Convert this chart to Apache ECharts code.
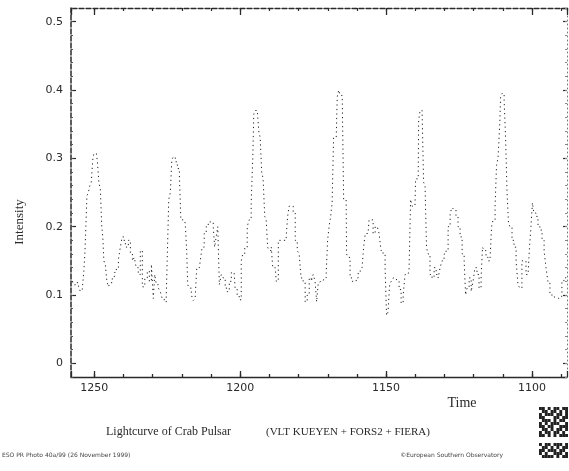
<!DOCTYPE html>
<html><head><meta charset="utf-8">
<script src="https://cdn.jsdelivr.net/npm/echarts@6/dist/echarts.min.js"></script>
<style>html,body{margin:0;padding:0;background:#fff}#c{width:569px;height:471px}</style>
</head><body><div id="c"></div>
<script>
// Time (x) and Intensity (y)
const time = [1257.5,1256.8,1255.8,1255.1,1254.5,1253.8,1253.4,1253.1,1252.7,1252.4,1251.7,1251.4,1250.7,1250.3,1250.0,1249.3,1248.6,1248.3,
1247.6,1247.3,1246.9,1246.6,1245.9,1245.5,1244.9,1244.2,1243.5,1242.8,1242.1,1241.4,1240.8,1240.1,1239.4,1238.7,1238.0,1237.3,1236.6,1236.0,1235.3,1234.6,1233.9,1233.2,
1232.2,1231.5,1230.8,1230.1,1229.5,1229.1,1228.4,1227.7,1227.1,1226.4,1225.7,1225.0,1224.7,1224.3,1223.6,1223.3,1222.6,1221.9,1221.2,1220.5,1220.2,1219.2,1218.5,1218.2,
1217.8,1217.1,1216.4,1215.8,1215.1,1214.7,1214.0,1213.4,1212.7,1212.0,1211.3,1210.6,1209.6,1208.9,1208.6,1207.9,1207.5,1206.8,1206.2,1205.5,1204.8,1204.1,1203.4,1202.7,1202.1,1201.4,1200.7,1200.0,
1199.3,1199.0,1197.9,1197.3,1196.6,1195.9,1195.5,1195.2,1194.5,1193.8,1193.5,1192.8,1192.5,1191.8,1191.4,1190.8,1190.4,1189.7,1189.0,1188.7,1188.0,1187.3,1186.6,1185.6,1184.6,1183.9,1183.6,1182.9,1182.2,1181.5,1180.8,1180.1,1179.5,
1178.8,1178.1,1177.4,1176.7,1176.0,1175.3,1174.7,1174.0,1173.6,1172.9,1172.3,1171.6,1170.9,1170.2,1169.9,1169.2,1168.8,1168.2,1167.8,1167.1,1166.4,1166.1,1165.4,1164.7,1164.4,1163.7,1163.4,1162.7,1162.0,1161.3,1160.6,1159.9,1159.2,1158.6,1157.9,
1157.5,1156.8,1156.2,1155.5,1154.8,1154.1,1153.4,1152.7,1152.1,1151.4,1150.7,1150.0,1149.7,1149.0,1148.6,1147.9,1147.3,1146.6,1145.9,1145.2,1144.5,1143.8,1143.2,1142.5,1141.8,1141.4,1140.8,1140.1,1139.7,1139.0,1138.7,1138.0,1137.3,1137.0,1136.3,
1136.0,1135.3,1134.6,1133.9,1133.2,1132.5,1131.8,1131.2,1130.5,1129.8,1129.1,1128.4,1127.7,1127.1,1126.4,1125.7,1125.0,1124.3,1123.6,1122.9,1122.6,1121.9,1121.2,1120.5,1119.9,1119.2,1118.5,1117.8,1117.1,1116.8,1116.1,1115.4,1114.7,1114.0,
1113.7,1113.0,1112.3,1112.0,1111.3,1110.9,1110.6,1109.9,1109.2,1108.9,1108.2,1107.9,1107.2,1106.5,1105.8,1105.1,1104.5,1103.8,1103.1,1102.4,1101.7,1101.0,1100.7,1100.0,1099.7,1099.0,1098.3,1097.6,1096.9,1096.2,1095.5,1094.9,1094.2,1093.5,1092.8,1092.1,1091.4,1090.8,1090.1,1089.4,1088.7,1088.0];

const intensity = [0.12,0.115,0.118,0.113,0.105,0.108,0.135,0.16,0.2,0.245,0.25,0.26,0.265,0.3,0.307,0.307,0.295,0.265,
0.255,0.2,0.185,0.15,0.145,0.12,0.112,0.118,0.125,0.133,0.14,0.152,0.17,0.185,0.175,0.17,0.18,0.16,0.15,0.155,0.14,0.13,0.165,0.112,
0.125,0.135,0.12,0.145,0.095,0.13,0.115,0.11,0.105,0.095,0.09,0.1,0.18,0.24,0.25,0.298,0.302,0.295,0.285,0.275,0.21,0.21,0.205,0.165,
0.115,0.11,0.1,0.092,0.095,0.14,0.14,0.15,0.17,0.19,0.2,0.207,0.207,0.2,0.17,0.185,0.2,0.115,0.13,0.125,0.11,0.105,0.12,0.133,0.133,0.11,0.1,0.093,
0.15,0.16,0.17,0.2,0.21,0.235,0.3,0.365,0.37,0.368,0.34,0.33,0.28,0.27,0.215,0.21,0.17,0.165,0.17,0.14,0.14,0.12,0.18,0.18,0.18,0.185,0.215,0.23,0.23,0.22,0.18,0.165,0.16,
0.125,0.12,0.09,0.1,0.125,0.12,0.13,0.12,0.09,0.118,0.12,0.12,0.125,0.13,0.18,0.2,0.215,0.235,0.33,0.33,0.39,0.4,0.392,0.39,0.24,0.24,0.16,0.155,0.125,0.12,0.12,0.125,0.135,0.135,0.14,
0.17,0.19,0.19,0.21,0.21,0.19,0.2,0.2,0.19,0.165,0.16,0.14,0.07,0.075,0.115,0.12,0.125,0.125,0.12,0.108,0.088,0.1,0.13,0.13,0.135,0.24,0.23,0.23,0.27,0.27,0.355,0.37,0.365,0.265,0.26,
0.17,0.16,0.13,0.125,0.14,0.13,0.125,0.14,0.15,0.16,0.165,0.2,0.22,0.228,0.225,0.215,0.2,0.185,0.16,0.15,0.1,0.11,0.125,0.105,0.12,0.14,0.13,0.11,0.125,0.17,0.165,0.155,0.15,0.155,
0.2,0.21,0.23,0.29,0.3,0.345,0.39,0.395,0.385,0.33,0.25,0.205,0.2,0.18,0.17,0.15,0.115,0.11,0.15,0.15,0.13,0.13,0.17,0.2,0.235,0.22,0.215,0.2,0.195,0.18,0.165,0.14,0.12,0.1,0.1,0.097,0.097,0.095,0.098,0.12,0.125,0.13];

const xTickLabels = [1250, 1200, 1150, 1100];
const yTickValues = [0, 0.1, 0.2, 0.3, 0.4, 0.5];
const yTickLabels = ['0', '0.1', '0.2', '0.3', '0.4', '0.5'];

const xRange = [1088, 1258];
const yRange = [-0.02, 0.52];

const seriesData = time.map((t, i) => [t, intensity[i]]);

const ink = '#2a2a2a';
const labelFont = 'DejaVu Sans';

function xFmt(v) { const r = Math.round(v); return (Math.abs(v - r) < 1e-6 && xTickLabels.indexOf(r) >= 0) ? String(r) : ''; }
function yFmt(v) {
  for (let k = 0; k < yTickValues.length; k++) if (Math.abs(v - yTickValues[k]) < 1e-6) return yTickLabels[k];
  return '';
}

const baseX = { type: 'value', inverse: true, min: xRange[0], max: xRange[1], splitLine: { show: false } };
const baseY = { type: 'value', min: yRange[0], max: yRange[1], splitLine: { show: false } };

const chart = echarts.init(document.getElementById('c'), null, { renderer: 'canvas' });
chart.setOption({
  animation: false,
  backgroundColor: '#fff',
  grid: { left: 71, right: 2, top: 8, bottom: 94, containLabel: false },
  xAxis: [
    Object.assign({}, baseX, { position: 'bottom', splitNumber: 17,
      axisLine: { show: true, onZero: false, lineStyle: { color: ink, width: 1.3 } },
      axisTick: { show: true, inside: true, length: 3, lineStyle: { color: ink, width: 1.3 } },
      axisLabel: { show: true, formatter: xFmt, color: ink, fontFamily: labelFont, fontSize: 11, margin: 6, showMinLabel: false, showMaxLabel: false } }),
    Object.assign({}, baseX, { position: 'bottom', splitNumber: 4,
      axisLine: { show: false, onZero: false }, axisLabel: { show: false },
      axisTick: { show: true, inside: true, length: 6, lineStyle: { color: ink, width: 1.3 } } }),
    Object.assign({}, baseX, { position: 'top', splitNumber: 17,
      axisLine: { show: true, onZero: false, lineStyle: { color: ink, width: 1.3, type: [5, 2] } },
      axisTick: { show: true, inside: true, length: 3, lineStyle: { color: ink, width: 1.2 } },
      axisLabel: { show: false } }),
    Object.assign({}, baseX, { position: 'top', splitNumber: 4,
      axisLine: { show: false, onZero: false }, axisLabel: { show: false },
      axisTick: { show: true, inside: true, length: 7, lineStyle: { color: ink, width: 1.3 } } })
  ],
  yAxis: [
    Object.assign({}, baseY, { position: 'left', splitNumber: 5,
      axisLine: { show: true, onZero: false, lineStyle: { color: ink, width: 1.5, type: [5, 2] } },
      axisTick: { show: true, inside: true, length: 5, lineStyle: { color: ink, width: 1.2 } },
      axisLabel: { show: true, formatter: yFmt, color: ink, fontFamily: labelFont, fontSize: 11, margin: 8, showMinLabel: false, showMaxLabel: false } }),
    Object.assign({}, baseY, { position: 'left', interval: 0.02,
      axisLine: { show: false, onZero: false }, axisLabel: { show: false },
      axisTick: { show: true, inside: true, length: 2, lineStyle: { color: '#555', width: 1 } } }),
    Object.assign({}, baseY, { position: 'right', splitNumber: 5,
      axisLine: { show: true, onZero: false, lineStyle: { color: '#777', width: 1, type: [1, 3] } },
      axisTick: { show: true, inside: true, length: 4, lineStyle: { color: ink, width: 1.2 } },
      axisLabel: { show: false } }),
    Object.assign({}, baseY, { position: 'right', interval: 0.02,
      axisLine: { show: false, onZero: false }, axisLabel: { show: false },
      axisTick: { show: true, inside: true, length: 2, lineStyle: { color: '#888', width: 1 } } })
  ],
  series: [{
    type: 'line', xAxisIndex: 0, yAxisIndex: 0,
    data: seriesData, step: 'middle', showSymbol: false, symbol: 'none',
    lineStyle: { color: '#222', width: 1, type: [1.2, 3.3] },
    silent: true
  }],
  graphic: [
    { type: 'text', x: 20, y: 222, rotation: Math.PI / 2,
      style: { text: 'Intensity', font: '13px "Liberation Serif"', fill: ink, align: 'center', verticalAlign: 'middle' } },
    { type: 'text', x: 462, y: 403,
      style: { text: 'Time', font: '14px "Liberation Serif"', fill: ink, align: 'center', verticalAlign: 'middle' } },
    { type: 'text', x: 106, y: 432,
      style: { text: 'Lightcurve of Crab Pulsar', font: '12px "Liberation Serif"', fill: ink, align: 'left', verticalAlign: 'middle' } },
    { type: 'text', x: 266, y: 432,
      style: { text: '(VLT KUEYEN + FORS2 + FIERA)', font: '11px "Liberation Serif"', fill: ink, align: 'left', verticalAlign: 'middle' } },
    { type: 'text', x: 2, y: 455,
      style: { text: 'ESO PR Photo 40a/99 (26 November 1999)', font: '6px "DejaVu Sans"', fill: '#444', align: 'left', verticalAlign: 'middle' } },
    { type: 'text', x: 503, y: 455,
      style: { text: '\u00a9European Southern Observatory', font: '6px "DejaVu Sans"', fill: '#444', align: 'right', verticalAlign: 'middle' } }
  ]
});

// decorative logo blocks (bottom right)
const logoRows = [
  '1101011011','0110110101','1011101101','1100011011','0111010110','1010111001','1101100111','0110101101','1011011010','1101010111'
];
const logoRows2 = ['1011011101','0110101011','1101110110','1010011101','0111101011'];
const zr = chart.getZr();
function addLogo(rows, x0, y0) {
  rows.forEach((r, j) => { for (let i = 0; i < r.length; i++) if (r[i] === '1')
    zr.add(new echarts.graphic.Rect({ shape: { x: x0 + i * 2.9, y: y0 + j * 3, width: 2.9, height: 3 }, style: { fill: '#222' } })); });
}
addLogo(logoRows, 539, 407);
addLogo(logoRows2, 539, 443);
</script>
</body></html>
